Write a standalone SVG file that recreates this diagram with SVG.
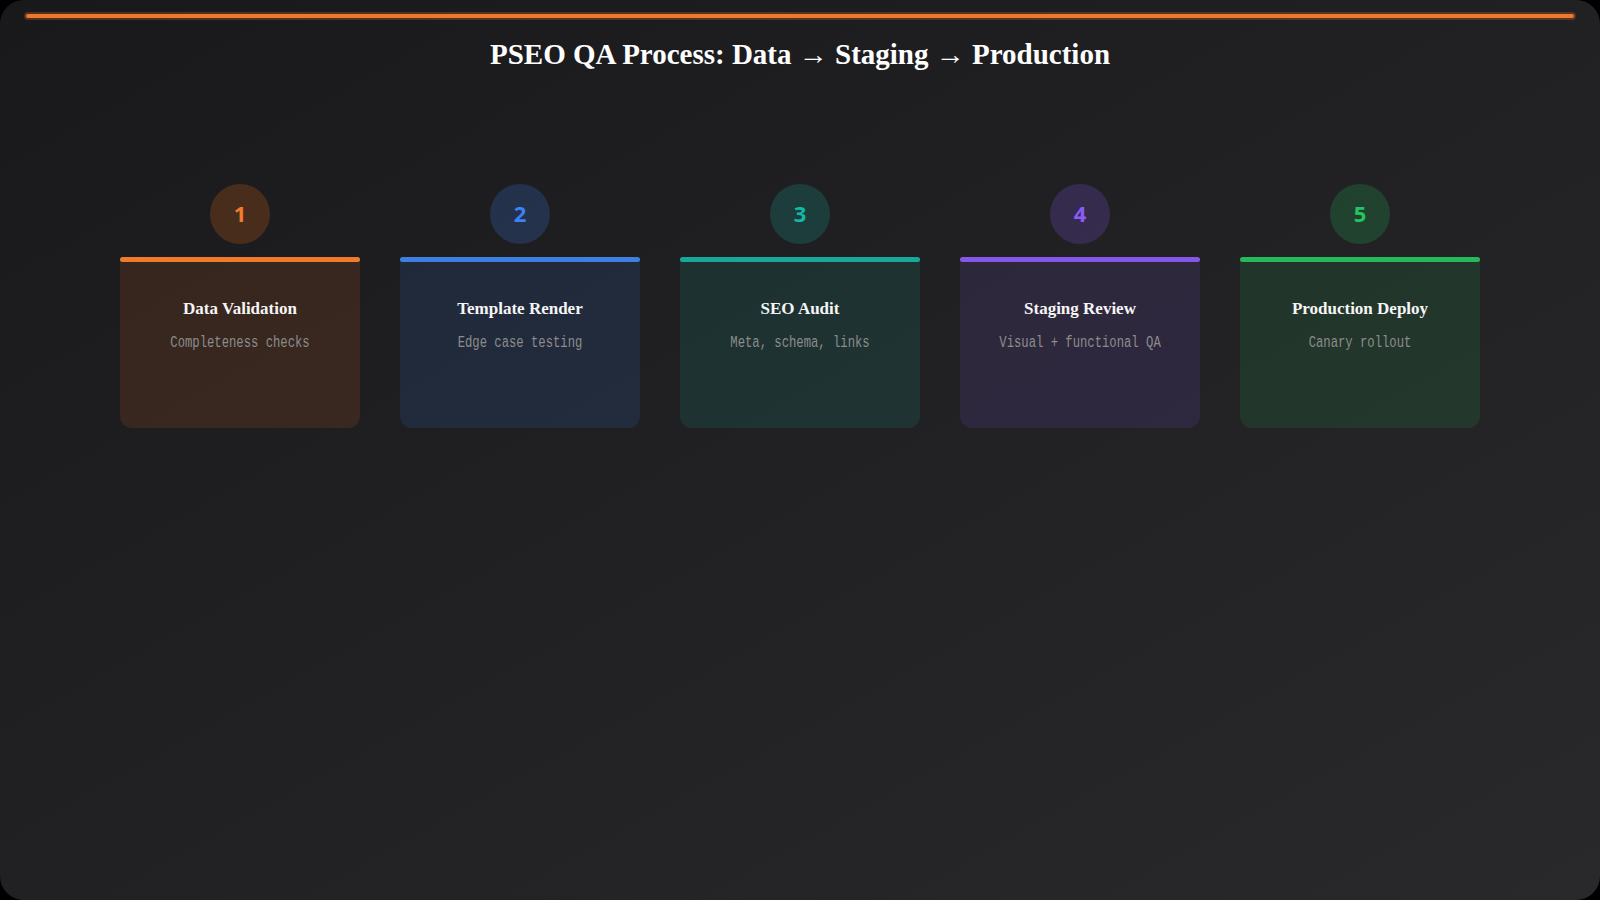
<svg xmlns="http://www.w3.org/2000/svg" width="1600" height="900" viewBox="0 0 1600 900">
  <defs>
    <linearGradient id="bg" x1="0" y1="0" x2="1" y2="1">
      <stop offset="0" stop-color="#19191c"/>
      <stop offset="1" stop-color="#29292c"/>
    </linearGradient>
    <style>
      .title{font-family:"Liberation Serif","Times New Roman",serif;font-weight:bold;fill:#ffffff;text-anchor:middle}
      .ctitle{font-family:"Liberation Serif","Times New Roman",serif;font-weight:bold;font-size:17px;fill:#f5f5f5;text-anchor:middle}
      .csub{font-family:"Liberation Mono","Courier New",monospace;font-size:17px;fill:#8c8c8c;text-anchor:middle}
      .num{font-family:"Open Sans","Noto Sans",sans-serif;font-weight:bold;font-size:22px;text-anchor:middle}
    </style>
  </defs>
  <rect x="0" y="0" width="1600" height="900" fill="#000000"/>
  <rect x="0" y="0" width="1600" height="900" rx="24" fill="url(#bg)"/>
  <line x1="28" y1="16" x2="1572" y2="16" stroke="#f97316" stroke-opacity="0.25" stroke-width="8" stroke-linecap="round"/>
  <line x1="28" y1="16" x2="1572" y2="16" stroke="#ec7a2e" stroke-width="4" stroke-linecap="round"/>
  <text class="title" x="800" y="64" font-size="29">PSEO QA Process: Data → Staging → Production</text>

  <g id="connectors"></g>

  <g id="step1">
    <circle cx="240" cy="214" r="30" fill="#f97316" fill-opacity="0.2"/>
    <text class="num" x="240" y="222" fill="#f27b2c">1</text>
    <path d="M120 258 H360 V416 A12 12 0 0 1 348 428 H132 A12 12 0 0 1 120 416 Z" fill="#f97316" fill-opacity="0.12"/>
    <rect x="120" y="257" width="240" height="5" rx="2.5" fill="#f07a2c"/>
    <text class="ctitle" x="240" y="314">Data Validation</text>
    <text class="csub" transform="translate(240 347) scale(0.72 1)">Completeness checks</text>
  </g>
  <g id="step2">
    <circle cx="520" cy="214" r="30" fill="#3b82f6" fill-opacity="0.2"/>
    <text class="num" x="520" y="222" fill="#3b82f6">2</text>
    <path d="M400 258 H640 V416 A12 12 0 0 1 628 428 H412 A12 12 0 0 1 400 416 Z" fill="#3b82f6" fill-opacity="0.12"/>
    <rect x="400" y="257" width="240" height="5" rx="2.5" fill="#3f7fe0"/>
    <text class="ctitle" x="520" y="314">Template Render</text>
    <text class="csub" transform="translate(520 347) scale(0.72 1)">Edge case testing</text>
  </g>
  <g id="step3">
    <circle cx="800" cy="214" r="30" fill="#14b8a6" fill-opacity="0.2"/>
    <text class="num" x="800" y="222" fill="#14b8a6">3</text>
    <path d="M680 258 H920 V416 A12 12 0 0 1 908 428 H692 A12 12 0 0 1 680 416 Z" fill="#14b8a6" fill-opacity="0.12"/>
    <rect x="680" y="257" width="240" height="5" rx="2.5" fill="#17a89a"/>
    <text class="ctitle" x="800" y="314">SEO Audit</text>
    <text class="csub" transform="translate(800 347) scale(0.72 1)">Meta, schema, links</text>
  </g>
  <g id="step4">
    <circle cx="1080" cy="214" r="30" fill="#8b5cf6" fill-opacity="0.2"/>
    <text class="num" x="1080" y="222" fill="#8b5cf6">4</text>
    <path d="M960 258 H1200 V416 A12 12 0 0 1 1188 428 H972 A12 12 0 0 1 960 416 Z" fill="#8b5cf6" fill-opacity="0.12"/>
    <rect x="960" y="257" width="240" height="5" rx="2.5" fill="#8458e6"/>
    <text class="ctitle" x="1080" y="314">Staging Review</text>
    <text class="csub" transform="translate(1080 347) scale(0.72 1)">Visual + functional QA</text>
  </g>
  <g id="step5">
    <circle cx="1360" cy="214" r="30" fill="#22c55e" fill-opacity="0.2"/>
    <text class="num" x="1360" y="222" fill="#22c55e">5</text>
    <path d="M1240 258 H1480 V416 A12 12 0 0 1 1468 428 H1252 A12 12 0 0 1 1240 416 Z" fill="#22c55e" fill-opacity="0.12"/>
    <rect x="1240" y="257" width="240" height="5" rx="2.5" fill="#25b95a"/>
    <text class="ctitle" x="1360" y="314">Production Deploy</text>
    <text class="csub" transform="translate(1360 347) scale(0.72 1)">Canary rollout</text>
  </g>
</svg>
